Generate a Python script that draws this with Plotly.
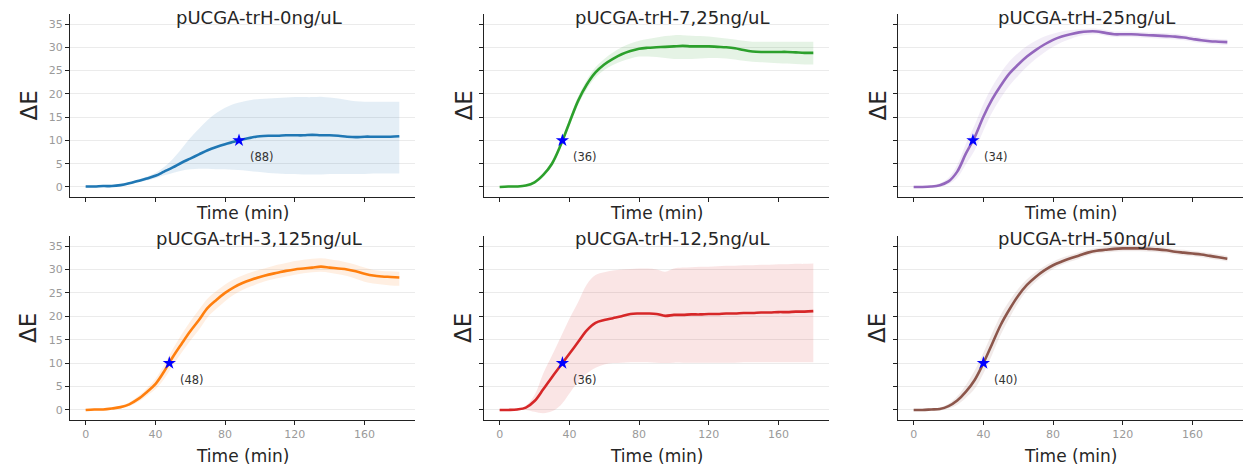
import plotly.graph_objects as go

# Sampling times (min)
time_min = list(range(0, 181, 5))

# Panel titles, colours and threshold crossing times (min) at dE = 10
titles = ["pUCGA-trH-0ng/uL", "pUCGA-trH-7,25ng/uL", "pUCGA-trH-25ng/uL",
          "pUCGA-trH-3,125ng/uL", "pUCGA-trH-12,5ng/uL", "pUCGA-trH-50ng/uL"]
colors = ["#1f77b4", "#2ca02c", "#9467bd", "#ff7f0e", "#d62728", "#8c564b"]
band_colors = ["rgba(31,119,180,0.12)", "rgba(44,160,44,0.12)", "rgba(148,103,189,0.12)",
               "rgba(255,127,14,0.12)", "rgba(214,39,40,0.12)", "rgba(140,86,75,0.12)"]
threshold = 10
cross_times = [88, 36, 34, 48, 36, 40]

# Mean dE and band limits per condition
mean_0 = [0.1, 0.1, 0.2, 0.2, 0.4, 0.8, 1.3, 1.8, 2.4, 3.3, 4.2, 5.2, 6.1, 7.0, 7.9, 8.6, 9.2, 9.7, 10.2,
          10.6, 10.9, 11.0, 11.0, 11.1, 11.1, 11.1, 11.2, 11.1, 11.1, 11.0, 10.8, 10.7, 10.8, 10.8, 10.8, 10.8, 10.9]
upper_0 = [0.3, 0.3, 0.4, 0.4, 0.6, 1.0, 1.6, 2.2, 3.0, 4.3, 6.0, 8.2, 10.5, 12.5, 14.4, 15.9, 17.0, 17.8, 18.3,
           18.7, 18.9, 19.0, 19.1, 19.2, 19.3, 19.3, 19.3, 19.4, 19.2, 19.0, 18.7, 18.4, 18.3, 18.3, 18.3, 18.3, 18.3]
lower_0 = [-0.1, -0.1, 0.0, 0.0, 0.2, 0.6, 1.0, 1.4, 1.9, 2.5, 3.0, 3.5, 3.8, 3.9, 3.9, 3.8, 3.8, 3.7, 3.6,
           3.4, 3.2, 3.0, 2.9, 2.8, 2.8, 2.7, 2.7, 2.7, 2.8, 2.8, 2.8, 2.8, 2.8, 2.9, 2.9, 2.9, 2.9]

mean_725 = [0.0, 0.1, 0.1, 0.3, 1.0, 2.6, 5.0, 9.0, 13.8, 18.5, 22.0, 24.6, 26.3, 27.5, 28.5, 29.2, 29.7, 29.9, 30.0,
            30.1, 30.2, 30.3, 30.2, 30.2, 30.2, 30.1, 30.0, 29.8, 29.4, 29.1, 29.0, 29.0, 29.0, 29.0, 28.9, 28.8, 28.8]
upper_725 = [0.2, 0.3, 0.3, 0.5, 1.3, 3.0, 5.6, 9.7, 14.6, 19.4, 23.0, 25.7, 27.5, 28.9, 30.0, 30.8, 31.4, 31.8, 32.1,
             32.4, 32.6, 32.6, 32.5, 32.4, 32.3, 32.1, 31.9, 31.7, 31.4, 31.2, 31.2, 31.2, 31.2, 31.2, 31.2, 31.2, 31.2]
lower_725 = [-0.2, -0.1, -0.1, 0.1, 0.7, 2.2, 4.4, 8.3, 13.0, 17.6, 21.0, 23.5, 25.1, 26.2, 27.0, 27.6, 28.0, 28.0, 27.9,
             27.7, 27.5, 27.5, 27.5, 27.6, 27.7, 27.7, 27.6, 27.4, 27.1, 26.9, 26.8, 26.7, 26.6, 26.5, 26.4, 26.3, 26.3]

mean_25 = [0.0, 0.0, 0.1, 0.4, 1.2, 3.3, 7.2, 10.7, 15.1, 18.8, 21.8, 24.4, 26.3, 28.0, 29.4, 30.6, 31.6, 32.3, 32.8,
           33.2, 33.4, 33.4, 33.1, 32.8, 32.8, 32.8, 32.7, 32.6, 32.5, 32.4, 32.3, 32.1, 31.8, 31.5, 31.3, 31.2, 31.1]
upper_25 = [0.2, 0.2, 0.3, 0.8, 2.0, 4.8, 9.3, 13.3, 17.8, 21.5, 24.5, 27.0, 28.8, 30.3, 31.4, 32.3, 32.9, 33.4, 33.7,
            33.9, 34.0, 34.0, 33.7, 33.4, 33.4, 33.4, 33.3, 33.2, 33.1, 33.0, 32.9, 32.7, 32.4, 32.1, 31.9, 31.8, 31.7]
lower_25 = [-0.2, -0.2, -0.1, 0.1, 0.6, 2.0, 4.9, 7.9, 12.1, 16.0, 19.1, 21.8, 23.9, 25.8, 27.5, 28.9, 30.1, 31.1, 31.8,
            32.4, 32.7, 32.8, 32.5, 32.2, 32.2, 32.2, 32.1, 32.0, 31.9, 31.8, 31.7, 31.5, 31.2, 30.9, 30.7, 30.6, 30.5]

mean_3125 = [0.0, 0.1, 0.1, 0.3, 0.6, 1.2, 2.3, 3.8, 5.5, 8.2, 11.3, 14.1, 16.8, 19.2, 21.8, 23.5, 25.0, 26.2, 27.1,
             27.8, 28.4, 28.9, 29.3, 29.7, 30.0, 30.2, 30.4, 30.6, 30.4, 30.2, 30.0, 29.6, 29.1, 28.7, 28.5, 28.4, 28.3]
upper_3125 = [0.2, 0.3, 0.3, 0.5, 0.9, 1.6, 2.9, 4.6, 6.6, 9.6, 13.0, 16.1, 18.9, 21.4, 23.8, 25.4, 26.8, 27.9, 28.7,
              29.4, 30.0, 30.5, 31.0, 31.4, 31.8, 32.1, 32.3, 32.4, 32.2, 31.9, 31.5, 31.0, 30.4, 29.9, 29.7, 29.6, 29.5]
lower_3125 = [-0.2, -0.1, -0.1, 0.1, 0.3, 0.8, 1.7, 3.0, 4.4, 6.6, 9.5, 12.2, 14.8, 17.1, 19.8, 21.6, 23.2, 24.6, 25.6,
              26.4, 27.1, 27.7, 28.1, 28.5, 28.9, 29.2, 29.4, 29.5, 29.3, 29.0, 28.6, 28.0, 27.4, 27.0, 26.8, 26.6, 26.5]

mean_125 = [0.0, 0.0, 0.1, 0.5, 1.9, 4.4, 7.0, 9.5, 12.0, 14.5, 17.0, 18.6, 19.2, 19.6, 20.0, 20.5, 20.6, 20.6, 20.5,
            20.1, 20.3, 20.3, 20.4, 20.4, 20.5, 20.5, 20.6, 20.6, 20.7, 20.7, 20.8, 20.8, 20.9, 20.9, 21.0, 21.0, 21.1]
upper_125 = [0.2, 0.2, 0.3, 0.9, 3.2, 7.8, 11.6, 15.5, 19.5, 23.0, 26.8, 28.8, 29.4, 29.8, 30.0, 30.1, 30.2, 30.2, 30.0,
             29.5, 30.2, 30.4, 30.5, 30.6, 30.6, 30.7, 30.8, 30.8, 30.9, 30.9, 31.0, 31.0, 31.1, 31.1, 31.2, 31.2, 31.3]
lower_125 = [-0.2, -0.2, -0.1, 0.0, -0.4, -0.7, -0.3, 1.0, 3.5, 6.0, 7.8, 9.0, 9.7, 10.0, 10.1, 10.2, 10.2, 10.2, 10.1,
             10.0, 10.1, 10.1, 10.1, 10.1, 10.1, 10.1, 10.1, 10.1, 10.2, 10.2, 10.2, 10.2, 10.2, 10.2, 10.2, 10.2, 10.2]

mean_50 = [0.0, 0.0, 0.1, 0.2, 0.8, 2.0, 3.9, 6.4, 10.0, 14.1, 18.2, 21.5, 24.4, 26.7, 28.4, 29.8, 30.9, 31.7, 32.4,
           33.0, 33.6, 34.0, 34.2, 34.4, 34.5, 34.5, 34.5, 34.4, 34.3, 34.1, 33.8, 33.6, 33.4, 33.2, 32.9, 32.6, 32.3]
upper_50 = [0.2, 0.2, 0.3, 0.5, 1.3, 2.9, 5.3, 8.4, 12.2, 16.4, 20.3, 23.3, 25.9, 27.9, 29.4, 30.7, 31.7, 32.5, 33.1,
            33.7, 34.2, 34.6, 34.8, 35.0, 35.1, 35.1, 35.1, 35.0, 34.9, 34.7, 34.4, 34.2, 34.0, 33.8, 33.5, 33.2, 32.9]
lower_50 = [-0.2, -0.2, -0.1, -0.1, 0.3, 1.1, 2.6, 4.5, 7.8, 11.8, 16.1, 19.7, 22.9, 25.5, 27.4, 28.9, 30.1, 31.0, 31.7,
            32.3, 33.0, 33.4, 33.6, 33.8, 33.9, 33.9, 33.9, 33.8, 33.7, 33.5, 33.2, 33.0, 32.8, 32.6, 32.3, 32.0, 31.7]

means = [mean_0, mean_725, mean_25, mean_3125, mean_125, mean_50]
uppers = [upper_0, upper_725, upper_25, upper_3125, upper_125, upper_50]
lowers = [lower_0, lower_725, lower_25, lower_3125, lower_125, lower_50]

y_ticks = [0, 5, 10, 15, 20, 25, 30, 35]
x_ticks = [0, 40, 80, 120, 160]

W, H = 1243, 469
# Panel pixel boxes: (left, right) per column, (top, bottom) per row
cols_px = [(70, 415), (484, 829), (898, 1243)]
rows_px = [(14, 197), (236, 420)]

fig = go.Figure()
layout = dict(
    width=W, height=H, margin=dict(l=0, r=0, t=0, b=0),
    paper_bgcolor="white", plot_bgcolor="white", showlegend=False,
    font=dict(family="DejaVu Sans", color="#262626"),
)
annotations = []

for i in range(6):
    r, c = divmod(i, 3)
    n = i + 1
    xa = "x" if n == 1 else f"x{n}"
    ya = "y" if n == 1 else f"y{n}"
    x0, x1 = cols_px[c]
    y0, y1 = rows_px[r]
    layout[f"xaxis{'' if n == 1 else n}"] = dict(
        domain=[x0 / W, x1 / W], anchor=ya, range=[-9, 189],
        tickvals=x_ticks, showticklabels=(r == 1), ticks="outside", ticklen=4,
        tickcolor="#222222", showline=True, linecolor="#222222", linewidth=1.3,
        showgrid=False, zeroline=False,
        tickfont=dict(size=11, color="#9a9a9a"),
    )
    layout[f"yaxis{'' if n == 1 else n}"] = dict(
        domain=[1 - y1 / H, 1 - y0 / H], anchor=xa, range=[-2.15, 37.15],
        tickvals=y_ticks, showticklabels=(c == 0), ticks="outside", ticklen=4,
        tickcolor="#222222", showline=True, linecolor="#222222", linewidth=1.3,
        showgrid=True, gridcolor="#ebebeb", gridwidth=1, zeroline=False,
        tickfont=dict(size=11, color="#9a9a9a"),
    )

    # shaded band between lower and upper limits
    fig.add_trace(go.Scatter(x=time_min, y=lowers[i], xaxis=xa, yaxis=ya, mode="lines",
                             line=dict(width=0, shape="spline"), hoverinfo="skip"))
    fig.add_trace(go.Scatter(x=time_min, y=uppers[i], xaxis=xa, yaxis=ya, mode="lines",
                             line=dict(width=0, shape="spline"), fill="tonexty",
                             fillcolor=band_colors[i], hoverinfo="skip"))
    # mean curve
    fig.add_trace(go.Scatter(x=time_min, y=means[i], xaxis=xa, yaxis=ya, mode="lines",
                             line=dict(color=colors[i], width=2.6, shape="spline")))
    # threshold crossing marker
    fig.add_trace(go.Scatter(x=[cross_times[i]], y=[threshold], xaxis=xa, yaxis=ya, mode="markers",
                             marker=dict(symbol="star", size=10, color="#0000ff", line=dict(width=0))))
    annotations.append(dict(x=cross_times[i] + 5, y=6.5, xref=xa, yref=ya, text=f"({cross_times[i]})",
                            showarrow=False, xanchor="left", yanchor="middle",
                            font=dict(size=11.5, color="#333333")))

    # panel title
    annotations.append(dict(x=((x0 + x1) / 2 + 16) / W, y=1 - (y0 + 3) / H, xref="paper", yref="paper",
                            text=titles[i], showarrow=False, xanchor="center", yanchor="middle",
                            font=dict(size=18, color="#262626")))
    # axis titles
    annotations.append(dict(x=(x0 + x1) / 2 / W, y=1 - (y1 + 16) / H, xref="paper", yref="paper",
                            text="Time (min)", showarrow=False, xanchor="center", yanchor="middle",
                            font=dict(size=17, color="#262626")))
    ylab_x = x0 - (42 if c == 0 else 21)
    annotations.append(dict(x=ylab_x / W, y=1 - (y0 + y1) / 2 / H, xref="paper", yref="paper",
                            text="ΔE", showarrow=False, textangle=-90, xanchor="center", yanchor="middle",
                            font=dict(size=23, color="#262626")))

# x-axis titles on the bottom row sit below the tick labels
for a in annotations:
    if a["text"] == "Time (min)" and a["y"] < 0.2:
        a["y"] = 1 - 456 / H

layout["annotations"] = annotations
fig.update_layout(**layout)
fig.write_html("out.html")
